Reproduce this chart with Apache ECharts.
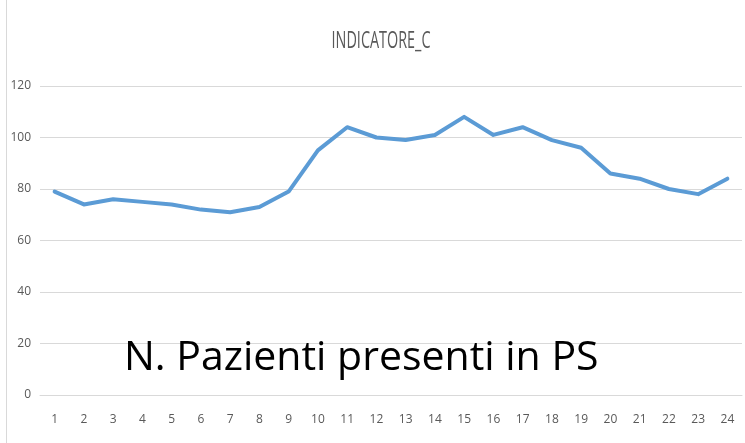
<!DOCTYPE html>
<html>
<head>
<meta charset="utf-8">
<script src="https://cdn.jsdelivr.net/npm/echarts@6/dist/echarts.min.js"></script>
<style>
  html, body { margin: 0; padding: 0; background: #fff; }
  #chart { width: 745px; height: 443px; }
</style>
</head>
<body>
<div id="chart"></div>
<script>
// Hours of the day (1..24)
const hours = ['1','2','3','4','5','6','7','8','9','10','11','12','13','14','15','16','17','18','19','20','21','22','23','24'];
// Patients present in the emergency department per hour
const patients = [79, 74, 76, 75, 74, 72, 71, 73, 79, 95, 104, 100, 99, 101, 108, 101, 104, 99, 96, 86, 84, 80, 78, 84];
const yTicks = { min: 0, max: 120, interval: 20 };
const chartTitle = 'INDICATORE_C';
const caption = 'N. Pazienti presenti in PS';

const labelFont = "'Open Sans', sans-serif";

const chart = echarts.init(document.getElementById('chart'), null, { renderer: 'canvas' });
chart.setOption({
  animation: false,
  backgroundColor: '#ffffff',
  grid: { left: 40, right: 3, top: 86, bottom: 48, containLabel: false },
  xAxis: {
    type: 'category',
    data: hours,
    boundaryGap: true,
    axisLine: { show: true, lineStyle: { color: '#d9d9d9', width: 1 } },
    axisTick: { show: false },
    axisLabel: { color: '#595959', fontFamily: labelFont, fontSize: 12, margin: 19 }
  },
  yAxis: {
    type: 'value',
    min: yTicks.min,
    max: yTicks.max,
    interval: yTicks.interval,
    axisLine: { show: false },
    axisTick: { show: false },
    axisLabel: { color: '#595959', fontFamily: labelFont, fontSize: 12, margin: 9 },
    splitLine: { lineStyle: { color: '#d9d9d9', width: 1 } }
  },
  series: [{
    type: 'line',
    data: patients,
    symbol: 'none',
    lineStyle: { color: '#5b9bd5', width: 4, join: 'round', cap: 'round' }
  }],
  graphic: [
    {
      // thin frame edge on the left
      type: 'line',
      shape: { x1: 6.5, y1: 0, x2: 6.5, y2: 443 },
      style: { stroke: '#d9d9d9', lineWidth: 1 },
      silent: true
    },
    {
      // chart title in a tall, condensed face
      type: 'text',
      x: 381,
      y: 41,
      scaleX: 0.6,
      style: {
        text: chartTitle,
        fontFamily: labelFont,
        fontSize: 24,
        fill: '#595959',
        align: 'center',
        verticalAlign: 'middle'
      }
    },
    {
      type: 'text',
      x: 124,
      y: 358,
      style: {
        text: caption,
        fontFamily: "'Open Sans', sans-serif",
        fontSize: 41,
        fill: '#000000',
        verticalAlign: 'middle',
        align: 'left'
      },
      z: 100
    }
  ]
});
</script>
</body>
</html>
